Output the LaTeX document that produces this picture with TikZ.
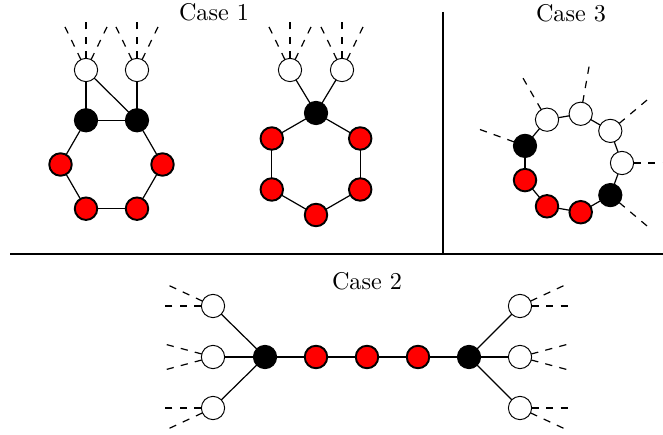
\documentclass[tikz,border=0pt]{standalone}
\usepackage{tkz-graph}

\begin{document}
\begin{tikzpicture}[x=0.4133pt, y=-0.4133pt]

    \useasboundingbox (0,0) rectangle (663,435);
    \tikzset{LabelStyle/.style = {inner sep = 0pt},
             EdgeStyle/.style = {line width = 0.5pt},
             plainv/.style = {draw, shape = circle, inner sep = 0pt,
                              minimum size = 9.6pt, line width = 0.4pt}}

    \node (case1) at (214,12) {Case 1};
    \node (case3) at (571,13) {Case 3};
    \node (case2) at (367,281) {Case 2};
    \draw[semithick] (10,254) -- (663,254);
    \draw[semithick] (443,12) -- (443,254);

    % white vertices
    \tikzset{VertexStyle/.style = {plainv, fill = white}}
    \Vertex[x=86,y=70,NoLabel]{W1}
    \Vertex[x=137,y=70,NoLabel]{W2}
    \Vertex[x=290,y=70,NoLabel]{W3}
    \Vertex[x=342,y=70,NoLabel]{W4}
    \Vertex[x=622,y=163,NoLabel]{C0}
    \Vertex[x=610.3,y=130.9,NoLabel]{C1}
    \Vertex[x=580.7,y=113.8,NoLabel]{C2}
    \Vertex[x=547,y=119.7,NoLabel]{C3}
    \Vertex[x=213,y=306,NoLabel]{W5}
    \Vertex[x=213,y=357,NoLabel]{W6}
    \Vertex[x=213,y=408,NoLabel]{W7}
    \Vertex[x=520,y=306,NoLabel]{W8}
    \Vertex[x=520,y=357,NoLabel]{W9}
    \Vertex[x=520,y=408,NoLabel]{W10}

    % black vertices
    \tikzset{VertexStyle/.style = {plainv, fill = black}}
    \Vertex[x=86,y=120.3,NoLabel]{B1}
    \Vertex[x=137,y=120.3,NoLabel]{B2}
    \Vertex[x=316,y=113,NoLabel]{B3}
    \Vertex[x=525,y=145.9,NoLabel]{C4}
    \Vertex[x=610.3,y=195.1,NoLabel]{C8}
    \Vertex[x=265,y=357,NoLabel]{B4}
    \Vertex[x=469,y=357,NoLabel]{B5}

    % red vertices
    \tikzset{VertexStyle/.style = {plainv, fill = red, line width = 0.8pt,
                                   minimum size = 9.3pt}}
    \Vertex[x=60.5,y=164.5,NoLabel]{R1}
    \Vertex[x=162.5,y=164.5,NoLabel]{R2}
    \Vertex[x=86,y=208.7,NoLabel]{R3}
    \Vertex[x=137,y=208.7,NoLabel]{R4}
    \Vertex[x=271.8,y=138.5,NoLabel]{R5}
    \Vertex[x=360.2,y=138.5,NoLabel]{R6}
    \Vertex[x=271.8,y=189.5,NoLabel]{R7}
    \Vertex[x=360.2,y=189.5,NoLabel]{R8}
    \Vertex[x=316,y=215,NoLabel]{R9}
    \Vertex[x=525,y=180.1,NoLabel]{C5}
    \Vertex[x=547,y=206.3,NoLabel]{C6}
    \Vertex[x=580.7,y=212.2,NoLabel]{C7}
    \Vertex[x=316,y=357,NoLabel]{R10}
    \Vertex[x=367,y=357,NoLabel]{R11}
    \Vertex[x=418,y=357,NoLabel]{R12}

    % loose ends
    \coordinate (W1a) at (63.2,23.3);
    \coordinate (W1b) at (86,18);
    \coordinate (W1c) at (108.8,23.3);
    \coordinate (W2a) at (114.2,23.3);
    \coordinate (W2b) at (137,18);
    \coordinate (W2c) at (159.8,23.3);
    \coordinate (W3a) at (267.2,23.3);
    \coordinate (W3b) at (290,18);
    \coordinate (W3c) at (312.8,23.3);
    \coordinate (W4a) at (319.2,23.3);
    \coordinate (W4b) at (342,18);
    \coordinate (W4c) at (364.8,23.3);
    \coordinate (C0a) at (672,163);
    \coordinate (C1a) at (648.6,98.7);
    \coordinate (C2a) at (589.4,64.5);
    \coordinate (C3a) at (522,76.4);
    \coordinate (C4a) at (478,128.8);
    \coordinate (C8a) at (648.6,227.3);
    \coordinate (W5a) at (163,306);
    \coordinate (W5b) at (167.7,284.9);
    \coordinate (W6a) at (164.7,344.1);
    \coordinate (W6b) at (164.7,369.9);
    \coordinate (W7a) at (163,408);
    \coordinate (W7b) at (167.7,429.1);
    \coordinate (W8a) at (570,306);
    \coordinate (W8b) at (565.3,284.9);
    \coordinate (W9a) at (568.3,344.1);
    \coordinate (W9b) at (568.3,369.9);
    \coordinate (W10a) at (570,408);
    \coordinate (W10b) at (565.3,429.1);

    % case 1
    \Edge(W1)(B1)
    \Edge(W2)(B2)
    \Edge(W1)(B2)
    \Edge(B1)(B2)
    \Edge(B1)(R1)
    \Edge(B2)(R2)
    \Edge(R1)(R3)
    \Edge(R2)(R4)
    \Edge(R3)(R4)
    \Edge(W3)(B3)
    \Edge(W4)(B3)
    \Edge(B3)(R5)
    \Edge(B3)(R6)
    \Edge(R5)(R7)
    \Edge(R6)(R8)
    \Edge(R7)(R9)
    \Edge(R8)(R9)
    % case 3
    \Edge(C0)(C1)
    \Edge(C1)(C2)
    \Edge(C2)(C3)
    \Edge(C3)(C4)
    \Edge(C4)(C5)
    \Edge(C5)(C6)
    \Edge(C6)(C7)
    \Edge(C7)(C8)
    \Edge(C8)(C0)
    % case 2
    \Edge(W5)(B4)
    \Edge(W6)(B4)
    \Edge(W7)(B4)
    \Edge(B4)(R10)
    \Edge(R10)(R11)
    \Edge(R11)(R12)
    \Edge(R12)(B5)
    \Edge(B5)(W8)
    \Edge(B5)(W9)
    \Edge(B5)(W10)

    \tikzset{EdgeStyle/.append style = {dashed}}
    \Edge(W1)(W1a)
    \Edge(W1)(W1b)
    \Edge(W1)(W1c)
    \Edge(W2)(W2a)
    \Edge(W2)(W2b)
    \Edge(W2)(W2c)
    \Edge(W3)(W3a)
    \Edge(W3)(W3b)
    \Edge(W3)(W3c)
    \Edge(W4)(W4a)
    \Edge(W4)(W4b)
    \Edge(W4)(W4c)
    \Edge(C0)(C0a)
    \Edge(C1)(C1a)
    \Edge(C2)(C2a)
    \Edge(C3)(C3a)
    \Edge(C4)(C4a)
    \Edge(C8)(C8a)
    \Edge(W5)(W5a)
    \Edge(W5)(W5b)
    \Edge(W6)(W6a)
    \Edge(W6)(W6b)
    \Edge(W7)(W7a)
    \Edge(W7)(W7b)
    \Edge(W8)(W8a)
    \Edge(W8)(W8b)
    \Edge(W9)(W9a)
    \Edge(W9)(W9b)
    \Edge(W10)(W10a)
    \Edge(W10)(W10b)

    \end{tikzpicture}
\end{document}
